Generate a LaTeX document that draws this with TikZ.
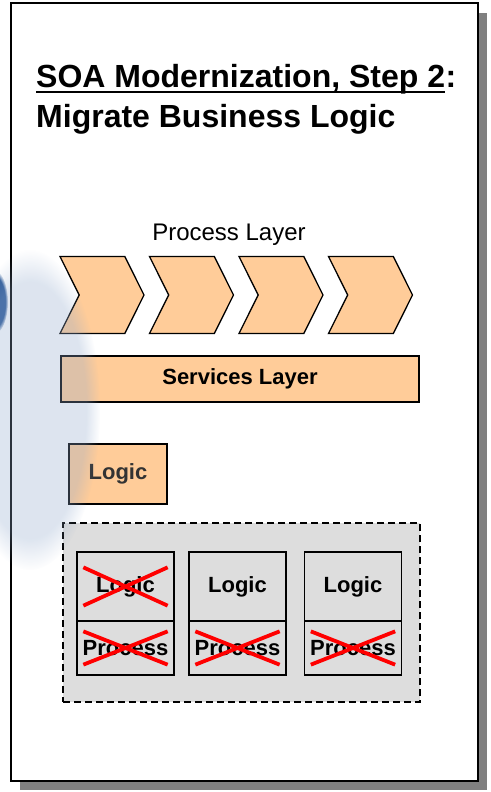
\documentclass[tikz,border=0pt]{standalone}
\usepackage{fontspec}
\setmainfont{Liberation Sans}
\usetikzlibrary{shapes.symbols,fadings}
\definecolor{peach}{HTML}{FFCC99}
\definecolor{cellgray}{HTML}{DDDDDD}
\definecolor{swirl}{HTML}{8FA8CC}
\definecolor{swirldark}{HTML}{2F5C9A}
\tikzset{%
  chev/.style  = {signal, signal from=west, signal to=east,%
                  draw, line width=1.3pt, fill=peach, inner sep=0pt,%
                  minimum width=84pt, minimum height=77pt,%
                  signal pointer angle=127},%
  layer/.style = {rectangle, draw, line width=1.3pt, fill=peach,%
                  font=\fontsize{22}{26}\selectfont\bfseries},%
  cell/.style  = {rectangle, draw, line width=1.3pt, inner sep=0pt,%
                  minimum width=97pt,%
                  font=\fontsize{22}{26}\selectfont\bfseries},%
  xmark/.style = {red, line width=3.8pt},%
  ttl/.style   = {anchor=base west, inner sep=0pt,%
                  font=\fontsize{32}{38}\selectfont\bfseries}%
}
\begin{document}
\begin{tikzpicture}[x=1pt,y=-1pt]
\useasboundingbox (0,0) rectangle (490,792);
	% slide page with shadow
	\fill [black!50] (20,13) rectangle (487,790);
	\draw [fill=white,line width=1.5pt] (11,3) rectangle (478,781);
	% title
	\node (title) [ttl] at (36,87) {SOA Modernization, Step 2};
	\node (colon) [ttl] at (title.base east) {:};
	\draw [line width=1.8pt] ([yshift=-5pt]title.base west) -- ([yshift=-5pt]title.base east);
	\node (title2) [ttl] at (36,127) {Migrate Business Logic};
	% process layer
	\node (proc) [anchor=base,font=\fontsize{24}{28}\selectfont] at (229,240) {Process Layer};
	\foreach \i in {1,...,4}
		\node (c\i) [chev] at (12.5+89.5*\i,295) {};
	\node (serv) [layer,minimum width=358pt,minimum height=46pt] at (240,379) {Services Layer};
	\node (logic) [layer,minimum width=98pt,minimum height=60pt,text=black!80] at (118,474) {Logic};
	% legacy applications
	\node (legacy) [draw,dash pattern=on 7pt off 4pt,line width=2pt,fill=cellgray,minimum width=357pt,minimum height=179pt] at (241.5,612.5) {};
	\foreach \x [count=\i] in {125.5,237.5,353}{
		\node (l\i) [cell,minimum height=69pt] at (\x,586.5) {Logic};
		\node (p\i) [cell,minimum height=54pt] at (\x,648) {Process};
	}
	\foreach \n/\dy in {l1/16,p1/11,p2/11,p3/11}{
		\draw [xmark] ([shift={(7,\dy)}]\n.north west) -- ([shift={(-7,-\dy)}]\n.south east);
		\draw [xmark] ([shift={(7,-\dy)}]\n.south west) -- ([shift={(-7,\dy)}]\n.north east);
	}
	% background swirl
	\fill [swirldark,path fading=circle with fuzzy edge 20 percent] (-6,302) ellipse (14 and 32);
	\fill [swirl,opacity=0.3,path fading=circle with fuzzy edge 20 percent] (30,410) ellipse (70 and 160);
\end{tikzpicture}
\end{document}
